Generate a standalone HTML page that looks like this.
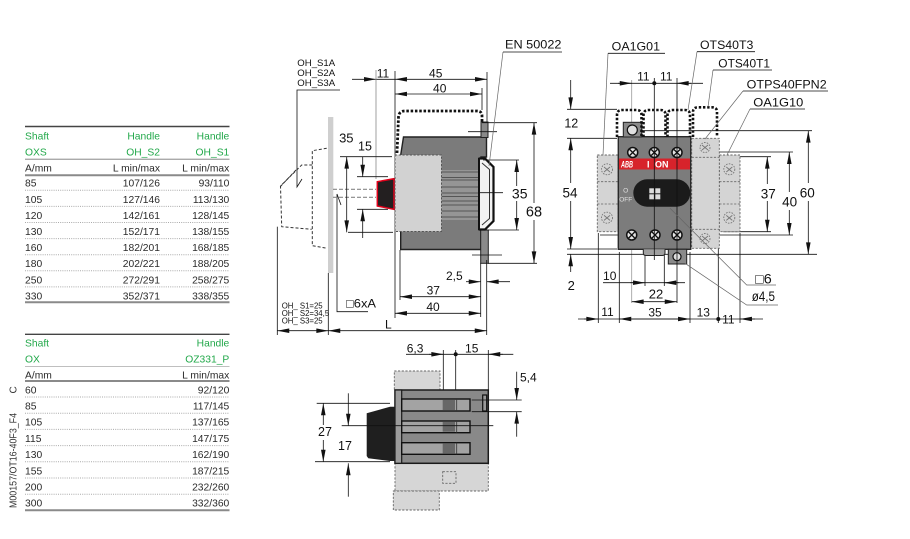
<!DOCTYPE html>
<html><head><meta charset="utf-8"><title>drawing</title>
<style>html,body{margin:0;padding:0;background:#fff;width:910px;height:539px;overflow:hidden}svg{display:block}text{font-family:"Liberation Sans","DejaVu Sans",sans-serif}</style></head>
<body>
<svg width="910" height="539" viewBox="0 0 910 539" xmlns="http://www.w3.org/2000/svg">
<defs>
<marker id="ar" viewBox="0 0 13 5" refX="13" refY="2.5" markerWidth="13" markerHeight="4.6" markerUnits="userSpaceOnUse" orient="auto-start-reverse"><path d="M0,0 L13,2.5 L0,5 z" fill="#111"/></marker>
</defs>
<rect width="910" height="539" fill="#fff"/>

<!-- ================= TABLE 1 ================= -->
<g font-size="10.3" fill="#2a2a2a">
<line x1="25" y1="126.5" x2="229.5" y2="126.5" stroke="#444" stroke-width="1.4"/>
<text x="25" y="139.3" fill="#22a84a">Shaft</text>
<text x="160" y="139.3" fill="#22a84a" text-anchor="end">Handle</text>
<text x="229.3" y="139.3" fill="#22a84a" text-anchor="end">Handle</text>
<text x="25" y="155.7" fill="#22a84a">OXS</text>
<text x="160" y="155.7" fill="#22a84a" text-anchor="end">OH_S2</text>
<text x="229.3" y="155.7" fill="#22a84a" text-anchor="end">OH_S1</text>
<line x1="25" y1="159.2" x2="229.5" y2="159.2" stroke="#777" stroke-width="0.8"/>
<text x="25" y="171.7">A/mm</text>
<text x="160" y="171.7" text-anchor="end">L min/max</text>
<text x="229.3" y="171.7" text-anchor="end">L min/max</text>
<line x1="25" y1="175.2" x2="229.5" y2="175.2" stroke="#8a8a8a" stroke-width="2"/>
<g stroke="#aaa" stroke-width="1" stroke-dasharray="1 1.2">
<line x1="25" y1="190.3" x2="229.5" y2="190.3"/>
<line x1="25" y1="206.4" x2="229.5" y2="206.4"/>
<line x1="25" y1="222.5" x2="229.5" y2="222.5"/>
<line x1="25" y1="238.6" x2="229.5" y2="238.6"/>
<line x1="25" y1="254.7" x2="229.5" y2="254.7"/>
<line x1="25" y1="270.8" x2="229.5" y2="270.8"/>
<line x1="25" y1="286.9" x2="229.5" y2="286.9"/>
</g>
<line x1="25" y1="302.2" x2="229.5" y2="302.2" stroke="#8a8a8a" stroke-width="2"/>
<text x="25" y="186.7">85</text><text x="160" y="186.7" text-anchor="end">107/126</text><text x="229.3" y="186.7" text-anchor="end">93/110</text>
<text x="25" y="202.8">105</text><text x="160" y="202.8" text-anchor="end">127/146</text><text x="229.3" y="202.8" text-anchor="end">113/130</text>
<text x="25" y="218.9">120</text><text x="160" y="218.9" text-anchor="end">142/161</text><text x="229.3" y="218.9" text-anchor="end">128/145</text>
<text x="25" y="235">130</text><text x="160" y="235" text-anchor="end">152/171</text><text x="229.3" y="235" text-anchor="end">138/155</text>
<text x="25" y="251.1">160</text><text x="160" y="251.1" text-anchor="end">182/201</text><text x="229.3" y="251.1" text-anchor="end">168/185</text>
<text x="25" y="267.2">180</text><text x="160" y="267.2" text-anchor="end">202/221</text><text x="229.3" y="267.2" text-anchor="end">188/205</text>
<text x="25" y="283.3">250</text><text x="160" y="283.3" text-anchor="end">272/291</text><text x="229.3" y="283.3" text-anchor="end">258/275</text>
<text x="25" y="299.4">330</text><text x="160" y="299.4" text-anchor="end">352/371</text><text x="229.3" y="299.4" text-anchor="end">338/355</text>
</g>

<!-- ================= TABLE 2 ================= -->
<g font-size="10.3" fill="#2a2a2a">
<line x1="25" y1="334.3" x2="229.5" y2="334.3" stroke="#444" stroke-width="1.4"/>
<text x="25" y="346.7" fill="#22a84a">Shaft</text>
<text x="229.3" y="346.7" fill="#22a84a" text-anchor="end">Handle</text>
<text x="25" y="362.7" fill="#22a84a">OX</text>
<text x="229.3" y="362.7" fill="#22a84a" text-anchor="end">OZ331_P</text>
<line x1="25" y1="366.3" x2="229.5" y2="366.3" stroke="#999" stroke-width="0.6"/>
<text x="25" y="378.3">A/mm</text>
<text x="229.3" y="378.3" text-anchor="end">L min/max</text>
<line x1="25" y1="381" x2="229.5" y2="381" stroke="#8a8a8a" stroke-width="2"/>
<g stroke="#aaa" stroke-width="1" stroke-dasharray="1 1.2">
<line x1="25" y1="397" x2="229.5" y2="397"/>
<line x1="25" y1="413.2" x2="229.5" y2="413.2"/>
<line x1="25" y1="429.4" x2="229.5" y2="429.4"/>
<line x1="25" y1="445.6" x2="229.5" y2="445.6"/>
<line x1="25" y1="461.8" x2="229.5" y2="461.8"/>
<line x1="25" y1="478" x2="229.5" y2="478"/>
<line x1="25" y1="494.2" x2="229.5" y2="494.2"/>
</g>
<line x1="25" y1="510.2" x2="229.5" y2="510.2" stroke="#8a8a8a" stroke-width="2"/>
<text x="25" y="393.3">60</text><text x="229.3" y="393.3" text-anchor="end">92/120</text>
<text x="25" y="409.5">85</text><text x="229.3" y="409.5" text-anchor="end">117/145</text>
<text x="25" y="425.7">105</text><text x="229.3" y="425.7" text-anchor="end">137/165</text>
<text x="25" y="441.9">115</text><text x="229.3" y="441.9" text-anchor="end">147/175</text>
<text x="25" y="458.1">130</text><text x="229.3" y="458.1" text-anchor="end">162/190</text>
<text x="25" y="474.3">155</text><text x="229.3" y="474.3" text-anchor="end">187/215</text>
<text x="25" y="490.5">200</text><text x="229.3" y="490.5" text-anchor="end">232/260</text>
<text x="25" y="506.7">300</text><text x="229.3" y="506.7" text-anchor="end">332/360</text>
</g>
<text transform="translate(16.7,508) rotate(-90)" font-size="10" fill="#333" textLength="95" lengthAdjust="spacingAndGlyphs">M00157/OT16-40F3_F4</text>
<text transform="translate(16.7,393.5) rotate(-90)" font-size="10" fill="#333">C</text>

<!-- ================= SIDE VIEW ================= -->
<g stroke="#111" stroke-width="0.8" fill="none">
<path d="M340,90 H297 V187 L302,179"/>
<line x1="352" y1="79.3" x2="376" y2="79.3" marker-end="url(#ar)"/>
<line x1="376" y1="79.3" x2="395" y2="79.3"/>
<line x1="395" y1="79.3" x2="487" y2="79.3" marker-start="url(#ar)" marker-end="url(#ar)"/>
<line x1="395" y1="94" x2="482" y2="94" marker-start="url(#ar)" marker-end="url(#ar)"/>
<line x1="376" y1="70" x2="376" y2="179" stroke="#888"/>
<line x1="395" y1="71" x2="395" y2="318"/>
<line x1="487" y1="72" x2="487" y2="123"/>
<line x1="482" y1="88" x2="482" y2="110"/>
<line x1="277.3" y1="226.7" x2="277.3" y2="335"/>
<line x1="328.3" y1="273" x2="328.3" y2="335"/>
<path d="M341,205 L337,194 V311.7 H368"/>
</g>
<!-- door panel -->
<rect x="328" y="117" width="5.3" height="156" fill="#cfcfcf"/>
<!-- dashed handle outline -->
<g stroke="#333" stroke-width="1" fill="none" stroke-dasharray="3 2">
<path d="M326.7,148.3 L312.3,150.7 L312.3,245.7 L327.3,248.3"/>
<path d="M312.3,165 L301.7,165 L280.5,186 L281.7,226.7 L311.7,229.3"/>
<path d="M296,170 L279,188"/>
</g>
<g stroke="#888" stroke-width="1.2" fill="none" stroke-dasharray="4 2">
<line x1="333" y1="189.3" x2="376" y2="189.3"/>
<line x1="333" y1="197.3" x2="376" y2="197.3"/>
</g>
<!-- knob -->
<polygon points="377.3,181.7 394,178.7 394,209.3 377.3,206" fill="#231f20" stroke="#e2001a" stroke-width="1.5"/>
<!-- dotted cover -->
<path d="M397,153 L398.5,117 Q399,111 405,111 L477,111 Q482,111 482,116 L482,135" fill="none" stroke="#111" stroke-width="2.8" stroke-dasharray="2.5 1.8"/>
<!-- body -->
<polygon points="403.5,137 486.5,137 486.5,157 481,157 481,249.5 400.7,249.5 400.7,155" fill="#7b7b7b" stroke="#222" stroke-width="1.4"/>
<rect x="481" y="122" width="7" height="15.5" fill="#8a8a8a" stroke="#222" stroke-width="1"/>
<rect x="480.7" y="230" width="7.6" height="33.3" fill="#8a8a8a" stroke="#222" stroke-width="1"/>
<!-- fins -->
<rect x="441.5" y="170" width="38" height="50" fill="#959595"/>
<g stroke="#555" stroke-width="0.9">
<line x1="441.5" y1="172" x2="479.5" y2="172"/>
<line x1="441.5" y1="177.5" x2="479.5" y2="177.5"/>
<line x1="441.5" y1="180" x2="479.5" y2="180"/>
<line x1="441.5" y1="187" x2="479.5" y2="187"/>
<line x1="441.5" y1="193" x2="479.5" y2="193"/>
<line x1="441.5" y1="196.5" x2="479.5" y2="196.5"/>
<line x1="441.5" y1="201" x2="479.5" y2="201"/>
<line x1="441.5" y1="205" x2="479.5" y2="205"/>
<line x1="441.5" y1="211" x2="479.5" y2="211"/>
<line x1="441.5" y1="217" x2="479.5" y2="217"/>
</g>
<!-- light box -->
<rect x="395" y="155" width="46.5" height="76.5" fill="#d2d2d2" stroke="#555" stroke-width="1" stroke-dasharray="2.2 1.5"/>
<!-- DIN rail -->
<path d="M478.5,158.5 L485,158.5 L493.5,167 L493.5,221 L485,229.5 L478.5,229.5" fill="#f2f2f2" stroke="#111" stroke-width="2.2"/>
<path d="M482,163 L489.5,169.5 L489.5,218.5 L482,225" fill="none" stroke="#333" stroke-width="1"/>
<line x1="479" y1="158" x2="479" y2="230" stroke="#111" stroke-width="2"/>
<!-- side right dims -->
<g stroke="#111" stroke-width="0.8" fill="none">
<line x1="482" y1="122.7" x2="537" y2="122.7"/>
<line x1="488" y1="263.3" x2="537" y2="263.3"/>
<line x1="483" y1="160" x2="519" y2="160"/>
<line x1="483" y1="230" x2="519" y2="230"/>
<line x1="480" y1="192.7" x2="503" y2="192.7"/>
<line x1="468" y1="131.7" x2="497" y2="131.7"/>
<line x1="472" y1="255" x2="502" y2="255"/>
<line x1="516.7" y1="186" x2="516.7" y2="160" marker-end="url(#ar)"/>
<line x1="516.7" y1="201" x2="516.7" y2="230" marker-end="url(#ar)"/>
<line x1="534" y1="203" x2="534" y2="122.7" marker-end="url(#ar)"/>
<line x1="534" y1="220" x2="534" y2="263.3" marker-end="url(#ar)"/>
<line x1="503" y1="52" x2="489" y2="166" stroke="#666" stroke-width="0.7"/>
<line x1="503" y1="52" x2="562" y2="52"/>
<!-- left dims -->
<line x1="340" y1="156.7" x2="392" y2="156.7"/>
<line x1="348" y1="232.3" x2="393" y2="232.3"/>
<line x1="357" y1="176.7" x2="388" y2="176.7"/>
<line x1="357" y1="209.3" x2="388" y2="209.3"/>
<line x1="346.7" y1="156.7" x2="346.7" y2="232.3" marker-start="url(#ar)" marker-end="url(#ar)"/>
<line x1="362.7" y1="156.7" x2="362.7" y2="176.7" marker-end="url(#ar)"/>
<line x1="362.7" y1="238" x2="362.7" y2="209.3" marker-end="url(#ar)"/>
<!-- bottom dims -->
<line x1="400" y1="250" x2="400" y2="300"/>
<line x1="480.7" y1="263" x2="480.7" y2="317"/>
<line x1="486.7" y1="260" x2="486.7" y2="335"/>
<line x1="400" y1="296.7" x2="480.7" y2="296.7" marker-start="url(#ar)" marker-end="url(#ar)"/>
<line x1="395" y1="313.3" x2="480.7" y2="313.3" marker-start="url(#ar)" marker-end="url(#ar)"/>
<line x1="466" y1="281.7" x2="480.7" y2="281.7" marker-end="url(#ar)"/>
<line x1="510" y1="281.7" x2="486.7" y2="281.7" marker-end="url(#ar)"/>
<line x1="277.3" y1="330.7" x2="328.3" y2="330.7" marker-start="url(#ar)" marker-end="url(#ar)"/>
<line x1="328.3" y1="330.7" x2="486.7" y2="330.7" marker-start="url(#ar)" marker-end="url(#ar)"/>
</g>
<g fill="#111">
<text x="297.3" y="66" font-size="9.6">OH_S1A</text>
<text x="297.3" y="76" font-size="9.6">OH_S2A</text>
<text x="297.3" y="86" font-size="9.6">OH_S3A</text>
<text x="383" y="77.3" font-size="12" text-anchor="middle">11</text>
<text x="435.7" y="77.7" font-size="12" text-anchor="middle">45</text>
<text x="439.7" y="92.3" font-size="12" text-anchor="middle">40</text>
<text x="346.3" y="142.7" font-size="13" text-anchor="middle">35</text>
<text x="365" y="150.7" font-size="12.5" text-anchor="middle">15</text>
<text x="519.7" y="198.3" font-size="14" text-anchor="middle">35</text>
<text x="534" y="216.7" font-size="14.5" text-anchor="middle">68</text>
<text x="446" y="280" font-size="12">2,5</text>
<text x="433.3" y="294.3" font-size="12" text-anchor="middle">37</text>
<text x="433" y="311" font-size="12" text-anchor="middle">40</text>
<text x="385" y="328.3" font-size="12">L</text>
<text x="346" y="307.7" font-size="12" textLength="30" lengthAdjust="spacingAndGlyphs">□6xA</text>
<text x="281.7" y="308.3" font-size="7.8">OH_ S1=25</text>
<text x="281.7" y="315.8" font-size="7.8">OH_ S2=34,5</text>
<text x="281.7" y="323.3" font-size="7.8">OH_ S3=25</text>
<text x="505" y="48.5" font-size="12" textLength="56.5" lengthAdjust="spacingAndGlyphs">EN 50022</text>
</g>

<!-- ================= FRONT VIEW ================= -->
<!-- background lines -->
<g stroke="#111" stroke-width="0.8" fill="none">
<line x1="631.7" y1="80" x2="631.7" y2="303" stroke="#999"/>
<line x1="610" y1="83.3" x2="703" y2="83.3"/>
<line x1="618" y1="83.3" x2="631.7" y2="83.3" marker-end="url(#ar)"/>
<line x1="691" y1="83.3" x2="676.7" y2="83.3" marker-end="url(#ar)"/>
<line x1="567" y1="109.3" x2="617" y2="109.3"/>
<line x1="567" y1="138.3" x2="617" y2="138.3"/>
<line x1="567" y1="249" x2="617" y2="249"/>
<line x1="567" y1="254.3" x2="817" y2="254.3"/>
<line x1="641" y1="130.7" x2="812" y2="130.7"/>
<line x1="623" y1="152" x2="793" y2="152"/>
<line x1="600" y1="235" x2="793" y2="235"/>
<line x1="740" y1="156.7" x2="771" y2="156.7"/>
<line x1="723" y1="231.7" x2="771" y2="231.7"/>
<line x1="597" y1="193.3" x2="633" y2="193.3"/>
<line x1="570.7" y1="80" x2="570.7" y2="109.3" marker-end="url(#ar)"/>
<line x1="570.7" y1="183" x2="570.7" y2="138.3" marker-end="url(#ar)"/>
<line x1="570.7" y1="201" x2="570.7" y2="249" marker-end="url(#ar)"/>
<line x1="570.7" y1="272" x2="570.7" y2="254.3" marker-end="url(#ar)"/>
<line x1="808.3" y1="183" x2="808.3" y2="130.7" marker-end="url(#ar)"/>
<line x1="808.3" y1="201" x2="808.3" y2="254.3" marker-end="url(#ar)"/>
<line x1="789.3" y1="192" x2="789.3" y2="152" marker-end="url(#ar)"/>
<line x1="789.3" y1="210" x2="789.3" y2="235" marker-end="url(#ar)"/>
<line x1="767.3" y1="184" x2="767.3" y2="156.7" marker-end="url(#ar)"/>
<line x1="767.3" y1="201" x2="767.3" y2="231.7" marker-end="url(#ar)"/>
<!-- bottom dims -->
<line x1="598.3" y1="233" x2="598.3" y2="323"/>
<line x1="619.3" y1="252" x2="619.3" y2="323"/>
<line x1="690" y1="252" x2="690" y2="323"/>
<line x1="718.3" y1="240" x2="718.3" y2="323"/>
<line x1="740" y1="233" x2="740" y2="323"/>
<line x1="645" y1="255" x2="645" y2="286"/>
<line x1="664.3" y1="255" x2="664.3" y2="286"/>
<line x1="603" y1="282.7" x2="685" y2="282.7"/>
<line x1="630" y1="282.7" x2="645" y2="282.7" marker-end="url(#ar)"/>
<line x1="679" y1="282.7" x2="664.3" y2="282.7" marker-end="url(#ar)"/>
<line x1="631.7" y1="301.7" x2="676.7" y2="301.7" marker-start="url(#ar)" marker-end="url(#ar)"/>
<line x1="578" y1="319" x2="763" y2="319"/>
<line x1="584" y1="319" x2="598.3" y2="319" marker-end="url(#ar)"/>
<line x1="619.3" y1="319" x2="690" y2="319" marker-start="url(#ar)" marker-end="url(#ar)"/>
<line x1="755" y1="319" x2="740" y2="319" marker-end="url(#ar)"/>
</g>
<circle cx="718.3" cy="319" r="2" fill="#111"/>
<circle cx="654.3" cy="83.3" r="2" fill="#111"/>

<!-- modules -->
<g fill="#d4d4d4" stroke="#666" stroke-width="0.9" stroke-dasharray="2.2 1.5">
<rect x="597.3" y="155" width="21" height="76.7"/>
<rect x="719.3" y="155" width="20.7" height="76.7"/>
<rect x="691.7" y="138.3" width="27.6" height="110"/>
</g>
<g stroke="#666" stroke-width="0.8" stroke-dasharray="2.2 1.5" fill="none">
<line x1="597.3" y1="181.7" x2="618.3" y2="181.7"/>
<line x1="597.3" y1="204" x2="618.3" y2="204"/>
<line x1="719.3" y1="181.7" x2="740" y2="181.7"/>
<line x1="719.3" y1="204" x2="740" y2="204"/>
<line x1="691.7" y1="157.3" x2="719.3" y2="157.3"/>
<line x1="691.7" y1="229.3" x2="719.3" y2="229.3"/>
</g>
<g stroke="#777" stroke-width="0.9" fill="none">
<g stroke-dasharray="1.6 1.2">
<circle cx="607" cy="169.3" r="5.5"/><circle cx="607" cy="217.7" r="5.5"/>
<circle cx="729.3" cy="169.3" r="5.5"/><circle cx="729.3" cy="217.7" r="5.5"/>
<circle cx="705" cy="147.5" r="5"/><circle cx="705" cy="238.5" r="5"/>
</g>
<path d="M604,167 l6,5 M610,167 l-6,5 M604,215.4 l6,5 M610,215.4 l-6,5 M726.3,167 l6,5 M732.3,167 l-6,5 M726.3,215.4 l6,5 M732.3,215.4 l-6,5 M702,145 l6,5 M708,145 l-6,5 M702,236 l6,5 M708,236 l-6,5"/>
</g>

<!-- switch body -->
<rect x="618.3" y="136.7" width="72.4" height="112.6" fill="#7c7c7c" stroke="#2a2a2a" stroke-width="1.4"/>
<rect x="623.3" y="122.3" width="18.4" height="14.7" fill="#8a8a8a" stroke="#222" stroke-width="1"/>
<circle cx="632.3" cy="130" r="5" fill="#e0e0e0" stroke="#111" stroke-width="1.2"/>
<path d="M643.3,249.3 V253 Q643.3,255.5 646,255.5 H662.3 Q665,255.5 665,253 V249.3" fill="#a0a0a0" stroke="#222" stroke-width="1"/>
<rect x="668.3" y="249.3" width="18.4" height="14.7" fill="#8a8a8a" stroke="#222" stroke-width="1"/>
<circle cx="677" cy="256.7" r="4" fill="#e0e0e0" stroke="#111" stroke-width="1.2"/>
<rect x="619" y="158.5" width="71" height="11" fill="#d7232b"/>
<text x="621" y="167.5" font-size="9" font-weight="bold" font-style="italic" fill="#fff" textLength="12" lengthAdjust="spacingAndGlyphs">ABB</text>
<text x="647" y="167.5" font-size="9" font-weight="bold" fill="#fff">I</text>
<text x="655" y="167.5" font-size="9" font-weight="bold" fill="#fff">ON</text>
<rect x="633.3" y="179.3" width="57" height="27.4" rx="13.7" fill="#1b1b1b"/>
<g fill="#dcdcdc">
<rect x="649.3" y="188.3" width="5" height="5"/><rect x="655.3" y="188.3" width="5" height="5"/>
<rect x="649.3" y="194.3" width="5" height="5"/><rect x="655.3" y="194.3" width="5" height="5"/>
</g>
<text x="625.7" y="192.5" font-size="6.5" fill="#e0e0e0" text-anchor="middle">O</text>
<text x="625.7" y="201.5" font-size="6.5" fill="#e0e0e0" text-anchor="middle">OFF</text>
<!-- screws -->
<g stroke="#111" stroke-width="1.5" fill="#e4e4e4">
<circle cx="632.7" cy="152.5" r="5"/><circle cx="654.3" cy="152.5" r="5"/><circle cx="677" cy="152.5" r="5"/>
<circle cx="631.7" cy="235" r="5"/><circle cx="655" cy="235" r="5"/><circle cx="677" cy="235" r="5"/>
</g>
<path d="M629.7,149.5 l6,6 M635.7,149.5 l-6,6 M651.3,149.5 l6,6 M657.3,149.5 l-6,6 M674,149.5 l6,6 M680,149.5 l-6,6 M628.7,232 l6,6 M634.7,232 l-6,6 M652,232 l6,6 M658,232 l-6,6 M674,232 l6,6 M680,232 l-6,6" stroke="#111" stroke-width="1.3"/>
<!-- lines over switch -->
<g stroke="#111" stroke-width="0.8">
<line x1="654.3" y1="78" x2="654.3" y2="260"/>
<line x1="677" y1="78" x2="677" y2="303"/>
</g>
<!-- dotted covers -->
<g fill="none" stroke="#111" stroke-width="2.6" stroke-dasharray="2.4 1.8">
<path d="M617,137 V115 Q617,110 622,110 H636.5 Q641.5,110 641.5,115 V137"/>
<path d="M643.5,137 V115 Q643.5,110 648.5,110 H660.5 Q665.5,110 665.5,115 V137"/>
<path d="M667.5,137 V115 Q667.5,110 672.5,110 H685 Q690,110 690,115 V137"/>
<path d="M693,137 V112 Q693,107.3 698,107.3 H712 Q717,107.3 717,112 V137"/>
</g>
<!-- leaders -->
<g stroke="#666" stroke-width="0.7" fill="none">
<path d="M608,53.3 L603,155"/>
<path d="M697,51.7 L688,110"/>
<path d="M713,70 L708,107"/>
<path d="M743,91 L705,139"/>
<path d="M750,109 L727,155"/>
<path d="M670,208.3 L746.7,285 H776"/>
<path d="M685,263.3 L746.7,305 H778"/>
</g>
<g stroke="#111" stroke-width="0.8">
<line x1="608" y1="53.3" x2="665" y2="53.3"/>
<line x1="697" y1="51.7" x2="755" y2="51.7"/>
<line x1="713" y1="70" x2="772" y2="70"/>
<line x1="743" y1="91" x2="828" y2="91"/>
<line x1="750" y1="109" x2="805" y2="109"/>
</g>
<g fill="#111">
<text x="611.7" y="50.7" font-size="12" textLength="48.3" lengthAdjust="spacingAndGlyphs">OA1G01</text>
<text x="700" y="49" font-size="12" textLength="53.3" lengthAdjust="spacingAndGlyphs">OTS40T3</text>
<text x="718.3" y="67.3" font-size="12" textLength="51.7" lengthAdjust="spacingAndGlyphs">OTS40T1</text>
<text x="746.7" y="88.3" font-size="12" textLength="80" lengthAdjust="spacingAndGlyphs">OTPS40FPN2</text>
<text x="753.3" y="106.7" font-size="12" textLength="50" lengthAdjust="spacingAndGlyphs">OA1G10</text>
<text x="643.3" y="80.7" font-size="12" text-anchor="middle">11</text>
<text x="666.2" y="80.7" font-size="12" text-anchor="middle">11</text>
<text x="571.3" y="127.3" font-size="12.5" text-anchor="middle">12</text>
<text x="570" y="197.3" font-size="13.5" text-anchor="middle">54</text>
<text x="571.2" y="290" font-size="13" text-anchor="middle">2</text>
<text x="807.3" y="197.3" font-size="13.5" text-anchor="middle">60</text>
<text x="789.7" y="206.7" font-size="13.5" text-anchor="middle">40</text>
<text x="768.3" y="198.3" font-size="13.5" text-anchor="middle">37</text>
<text x="609.7" y="280" font-size="12" text-anchor="middle">10</text>
<text x="656" y="298.3" font-size="13" text-anchor="middle">22</text>
<text x="607.5" y="316" font-size="12" text-anchor="middle">11</text>
<text x="655" y="316.7" font-size="12" text-anchor="middle">35</text>
<text x="703.3" y="316.7" font-size="12" text-anchor="middle">13</text>
<text x="728.3" y="323.3" font-size="12" text-anchor="middle">11</text>
<text x="755" y="283.3" font-size="13.5" textLength="16.7" lengthAdjust="spacingAndGlyphs">□6</text>
<text x="751.7" y="301" font-size="13.5" textLength="23.3" lengthAdjust="spacingAndGlyphs">ø4,5</text>
</g>

<!-- ================= BOTTOM VIEW ================= -->
<g fill="#d6d6d6" stroke="#666" stroke-width="0.9" stroke-dasharray="2.2 1.5">
<rect x="394.3" y="371" width="45.7" height="19"/>
<rect x="395" y="463.3" width="93.3" height="27.7"/>
<rect x="393.3" y="491" width="46" height="19"/>
<rect x="442.7" y="471.7" width="13.3" height="11.6"/>
</g>
<g stroke="#111" stroke-width="0.8" fill="none">
<line x1="443.3" y1="350" x2="443.3" y2="426.7"/>
<line x1="455.7" y1="350" x2="455.7" y2="401.7"/>
<line x1="488.3" y1="350" x2="488.3" y2="391"/>
</g>
<rect x="395" y="390" width="93.3" height="73.3" fill="#898989" stroke="#1a1a1a" stroke-width="1.5"/>
<rect x="395" y="390" width="6.7" height="73.3" fill="#9c9c9c" stroke="#1a1a1a" stroke-width="1.2"/>
<g stroke="#111" stroke-width="1.4">
<rect x="401.7" y="399" width="68.3" height="12" fill="#a3a3a3"/>
<rect x="401.7" y="421" width="68.3" height="11.7" fill="#a3a3a3"/>
<rect x="401.7" y="442.7" width="68.3" height="11.6" fill="#a3a3a3"/>
</g>
<g fill="#676767">
<rect x="442.7" y="400" width="12.3" height="10"/>
<rect x="442.7" y="422" width="12.3" height="9.7"/>
<rect x="442.7" y="443.7" width="12.3" height="9.6"/>
</g>
<g stroke="#333" stroke-width="0.8">
<line x1="456.7" y1="399" x2="456.7" y2="411"/>
<line x1="456.7" y1="421" x2="456.7" y2="432.7"/>
<line x1="456.7" y1="442.7" x2="456.7" y2="454.3"/>
</g>
<rect x="482.7" y="395" width="4" height="16" fill="#9a9a9a" stroke="#111" stroke-width="1.2"/>
<path d="M366.7,413.3 L390,406.7 L395,406.7 L395,461 L390,461 L368.3,458.3 L366.7,456 Z" fill="#1f1f1f"/>
<g stroke="#111" stroke-width="0.8" fill="none">
<line x1="406" y1="354.3" x2="513.3" y2="354.3"/>
<line x1="429" y1="354.3" x2="443.3" y2="354.3" marker-end="url(#ar)"/>
<line x1="503" y1="354.3" x2="488.3" y2="354.3" marker-end="url(#ar)"/>
<line x1="471.7" y1="400" x2="521.7" y2="400"/>
<line x1="471.7" y1="411.7" x2="521.7" y2="411.7"/>
<line x1="516.7" y1="371.7" x2="516.7" y2="400" marker-end="url(#ar)"/>
<line x1="516.7" y1="436.7" x2="516.7" y2="411.7" marker-end="url(#ar)"/>
<line x1="316.7" y1="403.3" x2="390" y2="403.3"/>
<line x1="315" y1="461.7" x2="390" y2="461.7"/>
<line x1="323.3" y1="425" x2="323.3" y2="403.3" marker-end="url(#ar)"/>
<line x1="323.3" y1="440" x2="323.3" y2="461.7" marker-end="url(#ar)"/>
<line x1="341.7" y1="425.7" x2="493.3" y2="425.7"/>
<line x1="348.3" y1="393.3" x2="348.3" y2="425.7" marker-end="url(#ar)"/>
<line x1="348.3" y1="496.7" x2="348.3" y2="463.3" marker-end="url(#ar)"/>
</g>
<circle cx="455.7" cy="354.3" r="2" fill="#111"/>
<g fill="#111">
<text x="406.7" y="352.3" font-size="12">6,3</text>
<text x="471.7" y="352.3" font-size="12" text-anchor="middle">15</text>
<text x="520" y="381.7" font-size="12">5,4</text>
<text x="325" y="436" font-size="12.5" text-anchor="middle">27</text>
<text x="345" y="450" font-size="12.5" text-anchor="middle">17</text>
</g>
</svg>
</body></html>
